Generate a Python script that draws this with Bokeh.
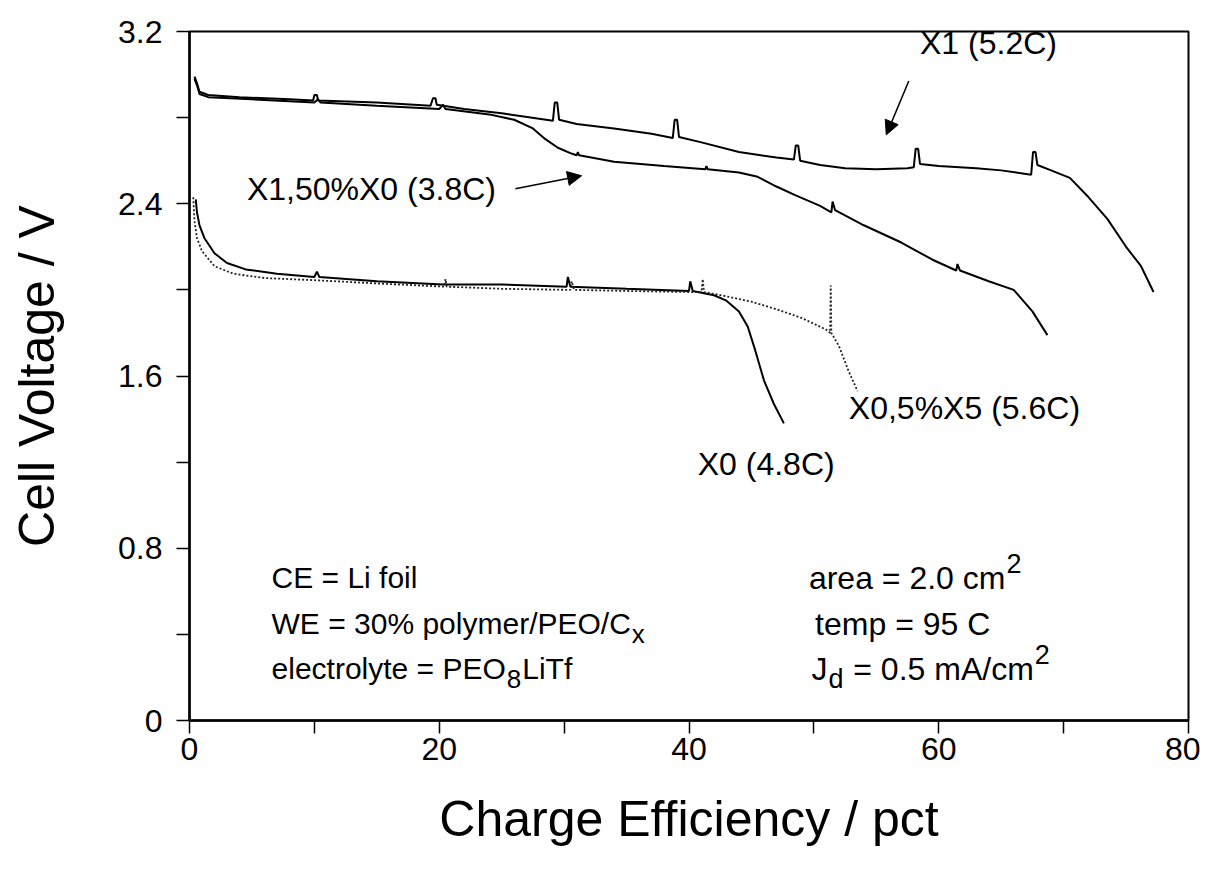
from bokeh.plotting import figure
from bokeh.models import Range1d, FixedTicker, Arrow, NormalHead, CustomJSTickFormatter
from bokeh.core.properties import value
from bokeh.embed import file_html
from bokeh.resources import INLINE

# ---------------- data ----------------
x1_x = [0.4, 0.6, 0.8, 1.5, 4.0, 8.0, 9.9, 10.0, 10.2, 10.3, 15.0, 19.3, 19.5, 19.7, 19.8, 22.0, 25.0,
        28.0, 29.1, 29.25, 29.45, 29.6, 31.0, 34.0, 37.0, 38.7, 38.85, 39.05, 39.2, 41.0, 44.0, 47.0,
        48.4, 48.55, 48.75, 48.9, 50.5, 52.5, 55.0, 57.5, 58.0, 58.15, 58.35, 58.5, 60.0, 63.0, 65.0,
        67.4, 67.55, 67.75, 67.9, 69.0, 70.5, 72.0, 73.5, 75.0, 76.2, 77.2]
x1_y = [2.99, 2.96, 2.92, 2.905, 2.895, 2.885, 2.88, 2.905, 2.905, 2.88, 2.87, 2.855, 2.89, 2.89, 2.86,
        2.84, 2.82, 2.795, 2.785, 2.87, 2.87, 2.79, 2.77, 2.75, 2.725, 2.705, 2.79, 2.79, 2.71, 2.685,
        2.64, 2.615, 2.605, 2.67, 2.67, 2.60, 2.58, 2.565, 2.56, 2.565, 2.57, 2.655, 2.655, 2.585,
        2.575, 2.565, 2.555, 2.535, 2.64, 2.64, 2.58, 2.555, 2.52, 2.43, 2.33, 2.20, 2.11, 1.99]

x150_x = [0.4, 0.6, 0.8, 1.5, 5.0, 10.0, 10.3, 10.5, 15.0, 20.0, 20.3, 20.5, 24.0, 26.0, 27.5, 28.5,
          29.5, 30.5, 31.0, 31.1, 31.2, 34.0, 38.0, 41.3, 41.4, 41.5, 44.0, 45.5, 47.0, 48.5, 50.5,
          51.4, 51.5, 51.7, 54.0, 57.0, 59.5, 61.4, 61.5, 61.7, 64.0, 66.0, 67.5, 68.7]
x150_y = [2.98, 2.95, 2.91, 2.895, 2.885, 2.87, 2.885, 2.87, 2.855, 2.84, 2.86, 2.84, 2.815, 2.79,
          2.75, 2.70, 2.66, 2.635, 2.625, 2.64, 2.625, 2.595, 2.575, 2.56, 2.575, 2.56, 2.545, 2.525,
          2.48, 2.44, 2.39, 2.36, 2.41, 2.37, 2.30, 2.22, 2.14, 2.09, 2.12, 2.09, 2.04, 2.00, 1.90, 1.79]

x0_x = [0.5, 0.6, 0.8, 1.2, 2.0, 3.0, 4.5, 7.0, 10.0, 10.2, 10.4, 15.0, 20.3, 25.0, 30.2, 30.3, 30.5,
        35.0, 40.0, 40.1, 40.3, 42.0, 43.0, 44.0, 44.7, 45.3, 46.0, 46.8, 47.6]
x0_y = [2.42, 2.36, 2.30, 2.24, 2.17, 2.125, 2.095, 2.075, 2.06, 2.085, 2.06, 2.04, 2.025, 2.025,
        2.015, 2.06, 2.015, 2.005, 1.995, 2.04, 1.995, 1.975, 1.95, 1.90, 1.83, 1.72, 1.58, 1.47, 1.38]

x05_x = [0.3, 0.4, 0.6, 1.0, 2.0, 3.5, 6.0, 10.0, 15.0, 20.4, 20.5, 20.6, 25.0, 30.5, 30.6, 30.8,
         35.0, 40.0, 41.0, 41.1, 41.2, 43.0, 45.0, 47.0, 49.0, 51.0, 51.3, 51.35, 51.4, 52.0, 52.8, 53.5]
x05_y = [2.43, 2.32, 2.24, 2.18, 2.11, 2.075, 2.055, 2.045, 2.03, 2.015, 2.05, 2.015, 2.005, 2.0,
         2.04, 2.0, 1.995, 1.99, 1.99, 2.05, 1.99, 1.97, 1.945, 1.91, 1.87, 1.815, 1.80, 2.02, 1.80,
         1.74, 1.62, 1.53]

x_ticks = [0, 20, 40, 60, 80]
x_minor = [10, 30, 50, 70]
y_ticks = [0, 0.8, 1.6, 2.4, 3.2]
y_minor = [0.4, 1.2, 2.0, 2.8]

curve_labels = ["X1 (5.2C)", "X1,50%X0 (3.8C)", "X0,5%X5 (5.6C)", "X0 (4.8C)"]
curve_label_x = [58.5, 4.6, 52.8, 40.7]
curve_label_y = [3.145, 2.47, 1.45, 1.19]

# notes: each row is a list of (text, kind) pieces, kind = "n" normal, "sub", "sup"
note_rows = [
    [("CE = Li foil", "n")],
    [("WE = 30% polymer/PEO/C", "n"), ("x", "sub")],
    [("electrolyte = PEO", "n"), ("8", "sub"), ("LiTf", "n")],
    [("area = 2.0 cm", "n"), ("2", "sup")],
    [("temp = 95 C", "n")],
    [("J", "n"), ("d", "sub"), (" = 0.5 mA/cm", "n"), ("2", "sup")],
]
note_row_x = [6.57, 6.57, 6.57, 49.6, 50.1, 49.8]
note_row_y = [0.663, 0.450, 0.241, 0.663, 0.450, 0.241]
note_row_px = [30, 30, 30, 32, 32, 32]

arrow_start = [(57.6, 2.97), (26.1, 2.47)]
arrow_end = [(55.8, 2.72), (31.4, 2.53)]

FONT = "Liberation Sans"
LABEL_PX = 32

# Arial / Liberation Sans advance widths (per 1000 em)
ADV = {" ": 278, "%": 889, ".": 278, "/": 278, "=": 584, "A": 667, "C": 722, "E": 667, "J": 500,
       "O": 778, "P": 667, "W": 944, "L": 556, "T": 611, "a": 556, "c": 500, "d": 556, "e": 556,
       "l": 222, "m": 833, "o": 556, "p": 556, "r": 333, "t": 278, "y": 500, "i": 222, "f": 278,
       "x": 500}
for dgt in "0123456789":
    ADV[dgt] = 556


def text_px(s, size):
    return sum(ADV.get(ch, 556) for ch in s) * size / 1000.0


W, H = 1200, 860
BL, BR, BT, BB = 189, 12, 31, 140
frame_w = W - BL - BR
frame_h = H - BT - BB
px_per_x = frame_w / 80.0
px_per_y = frame_h / 3.2

p = figure(width=W, height=H, x_range=Range1d(0, 80), y_range=Range1d(0, 3.2),
           output_backend="svg", toolbar_location=None,
           min_border_left=BL, min_border_right=BR, min_border_top=BT, min_border_bottom=BB)
p.grid.visible = False
p.background_fill_color = "white"
p.border_fill_color = "white"
p.outline_line_color = "black"
p.outline_line_width = 2

for ax in (p.xaxis[0], p.yaxis[0]):
    ax.axis_line_width = 2.5
    ax.axis_line_color = "black"
    ax.major_tick_line_width = 1.5
    ax.minor_tick_line_width = 1.5
    ax.major_tick_in = 0
    ax.major_tick_out = 13
    ax.minor_tick_in = 0
    ax.minor_tick_out = 13
    ax.major_label_text_font = FONT
    ax.major_label_text_font_size = "32px"
    ax.major_label_text_color = "black"
    ax.axis_label_text_font = FONT
    ax.axis_label_text_font_size = "50px"
    ax.axis_label_text_font_style = "normal"
    ax.axis_label_text_color = "black"

p.xaxis.ticker = FixedTicker(ticks=x_ticks, minor_ticks=x_minor)
p.yaxis.ticker = FixedTicker(ticks=y_ticks, minor_ticks=y_minor)
p.yaxis.formatter = CustomJSTickFormatter(code="return tick == 0 ? '0' : tick.toFixed(1);")
p.xaxis.axis_label = "Charge Efficiency / pct"
p.yaxis.axis_label = "Cell Voltage / V"
p.xaxis.major_label_standoff = 4
p.yaxis.major_label_standoff = 14
p.xaxis.axis_label_standoff = 28
p.yaxis.axis_label_standoff = 50

p.line(x1_x, x1_y, line_color="black", line_width=2)
p.line(x150_x, x150_y, line_color="black", line_width=2)
p.line(x0_x, x0_y, line_color="black", line_width=2)
p.line(x05_x, x05_y, line_color="#222222", line_width=1.8, line_dash="2 2")

p.text(x=curve_label_x, y=curve_label_y, text=curve_labels, text_font=value(FONT),
       text_font_size=value(f"{LABEL_PX}px"), text_baseline="middle", text_align="left",
       text_color="black")

# build note pieces, grouped by font size
groups = {}
for row, rx, ry, fs in zip(note_rows, note_row_x, note_row_y, note_row_px):
    sfs = round(fs * 0.85)
    cursor = 0.0
    for txt, kind in row:
        if kind == "n":
            stripped = txt.lstrip(" ")
            cursor += text_px(txt[:len(txt) - len(stripped)], fs)
            g = groups.setdefault(fs, ([], [], []))
            g[0].append(rx + cursor / px_per_x)
            g[1].append(ry)
            g[2].append(stripped)
            cursor += text_px(stripped, fs)
        else:
            dy = -10 if kind == "sub" else 14
            g = groups.setdefault(sfs, ([], [], []))
            g[0].append(rx + (cursor + 1) / px_per_x)
            g[1].append(ry + dy / px_per_y)
            g[2].append(txt)
            cursor += text_px(txt, sfs) + 2

for fs, (gx, gy, gt) in groups.items():
    p.text(x=gx, y=gy, text=gt, text_font=value(FONT), text_font_size=value(f"{fs}px"),
           text_baseline="middle", text_align="left", text_color="black")

for (xs, ys), (xe, ye) in zip(arrow_start, arrow_end):
    p.add_layout(Arrow(end=NormalHead(size=14, fill_color="black", line_color="black"),
                       x_start=xs, y_start=ys, x_end=xe, y_end=ye,
                       line_color="black", line_width=1.5))

open("out.html", "w").write(file_html(p, INLINE))
